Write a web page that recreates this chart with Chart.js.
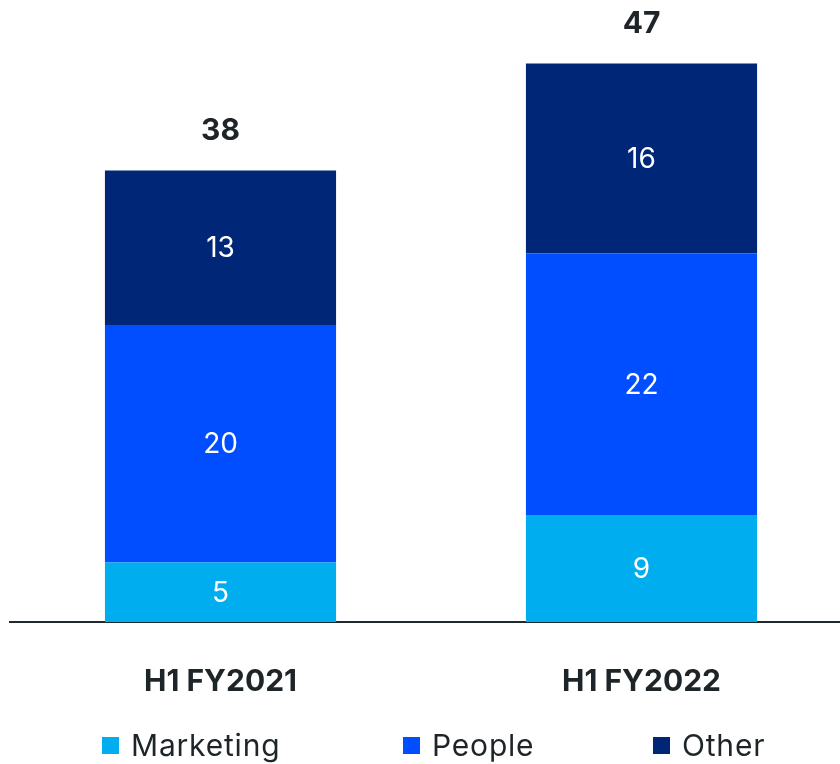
<!DOCTYPE html>
<html>
<head>
<meta charset="utf-8">
<script src="https://cdn.jsdelivr.net/npm/chart.js@4"></script>
<style>
  html, body { margin: 0; padding: 0; background: #fff; overflow: hidden; width: 840px; height: 764px; }
  #wrap { position: absolute; left: 0; top: 0; width: 852px; height: 764px; }
  #legend { position: absolute; left: 0; top: 726px; width: 840px; height: 38px;
            font: 30px Inter, sans-serif; letter-spacing: 0.8px; color: #1e2529; line-height: 38px; }
  .item { position: absolute; top: 0; display: flex; align-items: center; white-space: nowrap; }
  .swatch { width: 17px; height: 17px; margin-right: 12px; }
</style>
</head>
<body>
<div id="wrap"><canvas id="c" width="852" height="764"></canvas></div>
<div id="legend"></div>
<script>
// Half-year cost breakdown
const categories = ['H1 FY2021', 'H1 FY2022'];
const seriesNames = ['Marketing', 'People', 'Other'];
const marketing = [5, 9];
const people = [20, 22];
const other = [13, 16];
const seriesColors = ['#00AEEF', '#004EFF', '#002677'];
const yMax = 52;

const seriesValues = [marketing, people, other];
const totals = categories.map((_, j) => seriesValues.reduce((s, arr) => s + arr[j], 0));

const textColor = '#1e2529';
const fontFamily = 'Inter, sans-serif';

// Value labels inside each segment and totals above each stack
const labelPlugin = {
  id: 'stackLabels',
  afterDatasetsDraw(chart) {
    const ctx = chart.ctx;
    ctx.save();
    ctx.textAlign = 'center';
    ctx.textBaseline = 'middle';
    ctx.fillStyle = '#ffffff';
    ctx.font = '400 28px ' + fontFamily;
    chart.data.datasets.forEach((ds, i) => {
      const meta = chart.getDatasetMeta(i);
      meta.data.forEach((bar, j) => {
        const p = bar.getProps(['x', 'y', 'base'], true);
        ctx.fillText(String(ds.data[j]), p.x, (p.y + p.base) / 2 + 1);
      });
    });
    ctx.fillStyle = textColor;
    ctx.font = '700 30px ' + fontFamily;
    totals.forEach((t, j) => {
      const x = chart.scales.x.getPixelForValue(j);
      const y = chart.scales.y.getPixelForValue(t);
      ctx.fillText(String(t), x, y - 39);
    });
    ctx.restore();
  }
};

new Chart(document.getElementById('c'), {
  type: 'bar',
  data: {
    labels: categories,
    datasets: seriesNames.map((name, i) => ({
      label: name,
      data: seriesValues[i],
      backgroundColor: seriesColors[i],
      borderWidth: 0,
      barPercentage: 1,
      categoryPercentage: 0.549
    }))
  },
  options: {
    responsive: false,
    animation: false,
    devicePixelRatio: 1,
    layout: { padding: { left: 10, right: 0, top: 4, bottom: 22 } },
    plugins: {
      legend: { display: false },
      tooltip: { enabled: false }
    },
    scales: {
      x: {
        stacked: true,
        z: 1,
        grid: { display: false, drawTicks: false },
        border: { display: true, color: '#1e2a2e', width: 2 },
        ticks: {
          color: textColor,
          padding: 42,
          font: { family: fontFamily, size: 30, weight: '700' }
        }
      },
      y: {
        stacked: true,
        display: false,
        min: 0,
        max: yMax
      }
    }
  },
  plugins: [labelPlugin]
});

// Legend built from the series names and colours
const legendLeft = [102, 403, 653];
const legend = document.getElementById('legend');
seriesNames.forEach((name, i) => {
  const item = document.createElement('div');
  item.className = 'item';
  item.style.left = legendLeft[i] + 'px';
  const sw = document.createElement('span');
  sw.className = 'swatch';
  sw.style.background = seriesColors[i];
  const tx = document.createElement('span');
  tx.textContent = name;
  item.appendChild(sw);
  item.appendChild(tx);
  legend.appendChild(item);
});
</script>
</body>
</html>
